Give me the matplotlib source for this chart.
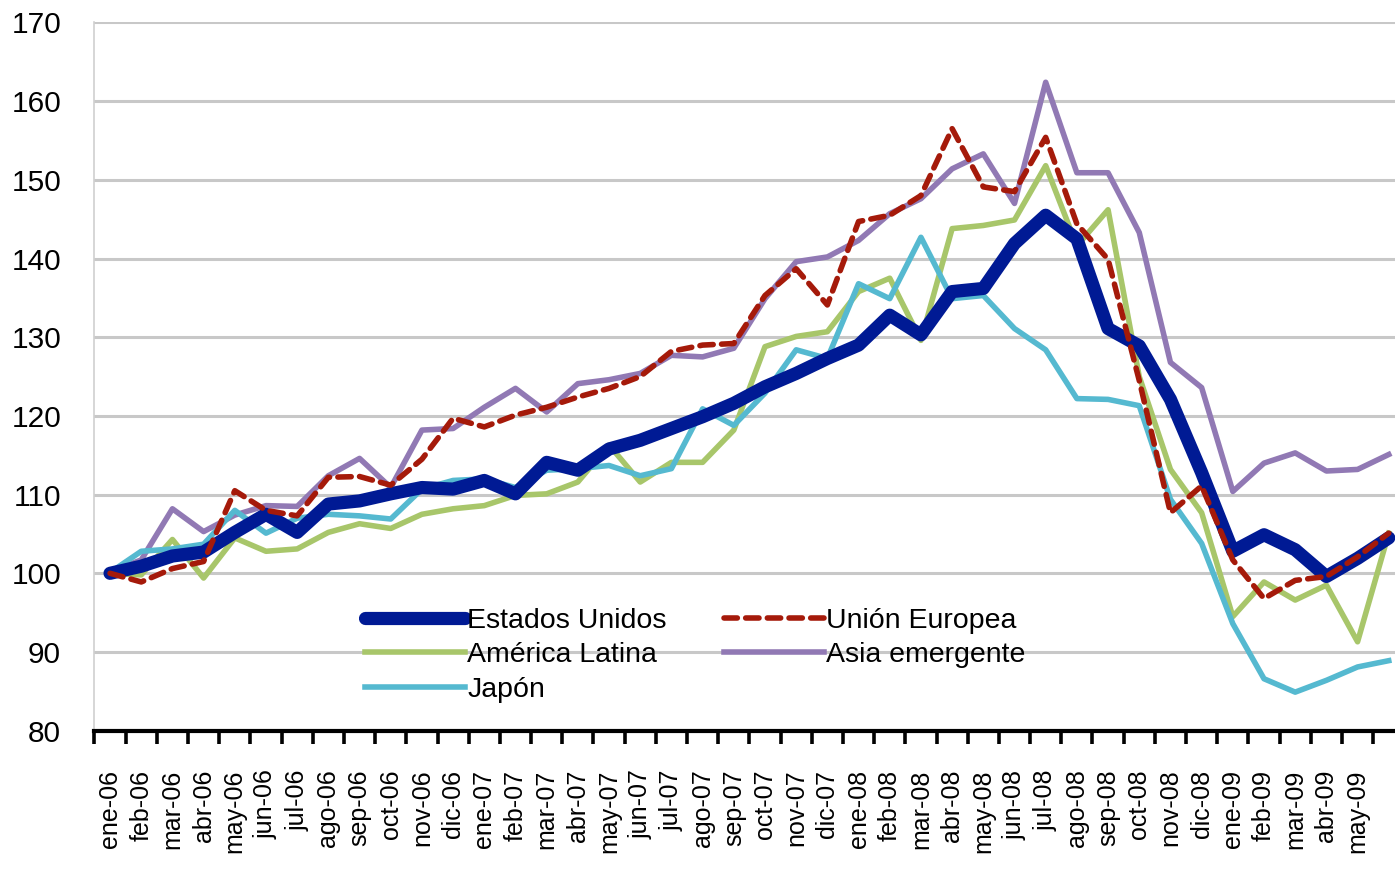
import matplotlib
matplotlib.use("Agg")
import matplotlib.pyplot as plt
from matplotlib.ticker import FixedLocator, NullFormatter

plt.rcParams['font.family'] = ['Liberation Sans', 'DejaVu Sans']

# meses ene-06 ... jun-09 (la última etiqueta queda fuera del recorte)
meses = ['ene', 'feb', 'mar', 'abr', 'may', 'jun', 'jul', 'ago', 'sep', 'oct', 'nov', 'dic']
etiquetas = [f'{m}-{a:02d}' for a in (6, 7, 8, 9) for m in meses][:42]

estados_unidos = [100.0, 100.9, 102.2, 102.7, 105.2, 107.5, 105.2, 108.8, 109.2, 110.1,
                  110.9, 110.7, 111.8, 110.1, 114.1, 113.1, 115.8, 116.9, 118.4, 119.9,
                  121.6, 123.7, 125.4, 127.3, 129.0, 132.8, 130.3, 135.8, 136.2, 141.9,
                  145.5, 142.5, 131.1, 128.9, 122.1, 112.8, 102.8, 104.9, 103.0, 99.6,
                  101.9, 104.5]
union_europea = [100.0, 98.9, 100.6, 101.5, 110.5, 108.0, 107.3, 112.2, 112.3, 111.2,
                 114.5, 119.7, 118.6, 120.1, 121.1, 122.4, 123.5, 125.0, 128.2, 129.0,
                 129.2, 135.3, 138.7, 134.1, 144.7, 145.5, 148.0, 156.5, 149.1, 148.5,
                 155.4, 144.4, 139.9, 124.5, 107.7, 111.1, 101.7, 96.8, 99.1, 99.6,
                 102.1, 105.1]
america_latina = [100.0, 99.8, 104.3, 99.4, 104.5, 102.8, 103.1, 105.2, 106.3, 105.7,
                  107.5, 108.2, 108.6, 109.9, 110.1, 111.6, 116.3, 111.6, 114.1, 114.1,
                  118.2, 128.8, 130.1, 130.7, 135.8, 137.5, 129.6, 143.8, 144.2, 144.9,
                  151.8, 141.6, 146.2, 125.0, 113.2, 107.7, 94.5, 98.9, 96.6, 98.5,
                  91.3, 105.1]
asia_emergente = [100.2, 101.7, 108.2, 105.3, 107.4, 108.6, 108.5, 112.4, 114.6, 110.9,
                  118.2, 118.4, 121.1, 123.5, 120.5, 124.1, 124.6, 125.4, 127.7, 127.5,
                  128.6, 134.9, 139.6, 140.2, 142.3, 145.7, 147.6, 151.4, 153.3, 147.0,
                  162.4, 150.9, 150.9, 143.3, 126.8, 123.6, 110.4, 114.0, 115.3, 113.0,
                  113.2, 115.1]
japon = [100.1, 102.8, 103.1, 103.7, 108.0, 105.1, 107.0, 107.5, 107.3, 106.9,
         110.7, 111.8, 112.0, 110.9, 113.1, 113.3, 113.7, 112.4, 113.3, 120.9,
         118.8, 122.9, 128.4, 127.3, 136.8, 134.9, 142.7, 134.9, 135.3, 131.1,
         128.4, 122.2, 122.1, 121.3, 109.4, 103.8, 93.6, 86.6, 84.9, 86.4,
         88.1, 88.9]

x = list(range(len(etiquetas)))

fig = plt.figure(figsize=(13.95, 8.73), dpi=100)
ax = fig.add_axes([0.0677, 0.163, 1 - 0.0677, 0.9743 - 0.163])

l_us, = ax.plot(x, estados_unidos, color='#001A94', lw=9.5, solid_joinstyle='round',
                solid_capstyle='round', label='Estados Unidos', zorder=3)
l_ue, = ax.plot(x, union_europea, color='#A51A0A', lw=4.0, dashes=(2.4, 1.5),
                dash_capstyle='round', label='Unión Europea', zorder=4)
l_al, = ax.plot(x, america_latina, color='#A8C66A', lw=4.0, label='América Latina', zorder=2)
l_as, = ax.plot(x, asia_emergente, color='#9179B4', lw=4.0, label='Asia emergente', zorder=2)
l_jp, = ax.plot(x, japon, color='#55B9D0', lw=4.0, label='Japón', zorder=2)

ax.set_xlim(-0.5, 41.2)
ax.set_ylim(80, 170)
ax.set_yticks(range(80, 171, 10))
ax.yaxis.grid(True, color='#C8C8C8', lw=2.2)
ax.set_axisbelow(True)
ax.tick_params(axis='y', length=0, pad=24, labelsize=21.5)

# marcas en los límites de categoría, etiquetas en el centro
ax.xaxis.set_major_locator(FixedLocator([i - 0.5 for i in range(len(etiquetas) + 1)]))
ax.xaxis.set_major_formatter(NullFormatter())
ax.xaxis.set_minor_locator(FixedLocator(x))
visibles = etiquetas[:-1] + ['']
ax.set_xticklabels(visibles, minor=True, rotation=90, fontsize=18)
ax.tick_params(axis='x', which='major', direction='out', length=9, width=2.6, color='black')
ax.tick_params(axis='x', which='minor', length=0, pad=28)

for s in ['top', 'right']:
    ax.spines[s].set_visible(False)
ax.spines['left'].set_color('#D0D0D0')
ax.spines['left'].set_linewidth(1.2)
ax.spines['bottom'].set_color('black')
ax.spines['bottom'].set_linewidth(3)

ax.legend([l_us, l_al, l_jp, l_ue, l_as],
          ['Estados Unidos', 'América Latina', 'Japón', 'Unión Europea', 'Asia emergente'],
          ncol=2, loc='upper left', bbox_to_anchor=(0.2616, 0.304),
          bbox_transform=fig.transFigure, frameon=False, fontsize=20.5,
          handlelength=3.5, handletextpad=0.1, columnspacing=2.0,
          labelspacing=0.3, borderpad=0, borderaxespad=0)

fig.savefig('out.png', dpi=100)
